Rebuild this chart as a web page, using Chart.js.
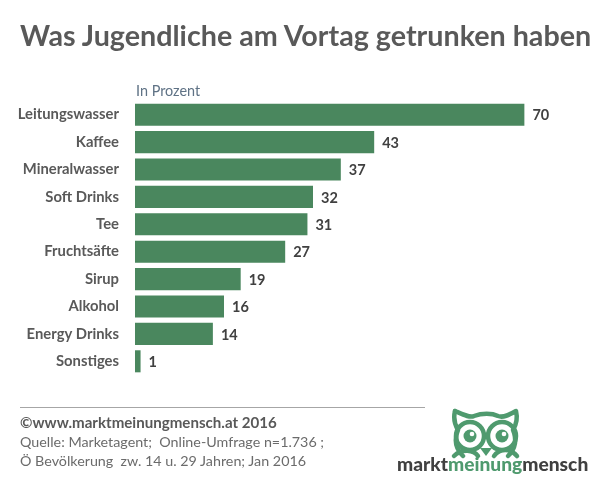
<!DOCTYPE html>
<html>
<head>
<meta charset="utf-8">
<script src="https://cdn.jsdelivr.net/npm/chart.js@4"></script>
<style>
  html, body { margin: 0; padding: 0; background: #fff; }
  body { width: 611px; height: 479px; position: relative; overflow: hidden; font-family: Lato, "Open Sans", sans-serif; }
  canvas { position: absolute; left: 0; top: 0; }
  .txt { position: absolute; white-space: pre; }
  #title { left: 20px; top: 18px; font-size: 28.7px; font-weight: 700; color: #595959; }
  #unit { left: 136px; top: 82px; font-size: 14.4px; color: #5f7285; }
  #rule { left: 20px; top: 407px; width: 405px; height: 1px; background: #a6a6a6; }
  #src1 { left: 20px; top: 413px; font-size: 15.1px; font-weight: 700; color: #595959; }
  #src2 { left: 20px; top: 433px; font-size: 14.3px; color: #6b6b6b; }
  #src3 { left: 20px; top: 452px; font-size: 14.3px; color: #6b6b6b; }
  #logoText { left: 397px; top: 452px; font-size: 19.2px; font-weight: 900; color: #404040; }
  #logoText span { color: #4f9a6e; }
  #owl { position: absolute; left: 450px; top: 406px; }
</style>
</head>
<body>
<canvas id="barChart" width="611" height="479"></canvas>
<div class="txt" id="title">Was Jugendliche am Vortag getrunken haben</div>
<div class="txt" id="unit">In Prozent</div>
<div class="txt" id="rule"></div>
<div class="txt" id="src1">©www.marktmeinungmensch.at 2016</div>
<div class="txt" id="src2">Quelle: Marketagent;  Online-Umfrage n=1.736 ;</div>
<div class="txt" id="src3">Ö Bevölkerung  zw. 14 u. 29 Jahren; Jan 2016</div>
<svg id="owl" width="72" height="54" viewBox="0 0 72 54">
  <g fill="none" stroke="#4f9a6e" stroke-width="4.5" stroke-linejoin="round" stroke-linecap="round">
    <path d="M5 5 C14 9 20 12 24 10 C32 7 42 7 48 10 C53 12 59 9 66 5 C68 13 66 19 63 24 C68 36 64 44 58 50"/>
    <path d="M5 5 C3 13 5 19 8 24 C3 36 7 44 13 50"/>
    <circle cx="20" cy="30" r="14"/>
    <circle cx="52" cy="30" r="14"/>
    <path d="M4 50 C12 42 24 44 28 50"/>
    <path d="M44 50 C50 42 60 42 67 50"/>
  </g>
  <circle cx="20" cy="30" r="6.5" fill="#4f9a6e"/>
  <circle cx="52" cy="30" r="6.5" fill="#4f9a6e"/>
  <circle cx="22" cy="28" r="2.3" fill="#fff"/>
  <circle cx="54" cy="28" r="2.3" fill="#fff"/>
  <path d="M30 42 L42 42 L36 50 Z" fill="#4f9a6e"/>
</svg>
<div class="txt" id="logoText">markt<span>meinung</span>mensch</div>

<script>
// Chart data
const categories = ["Leitungswasser", "Kaffee", "Mineralwasser", "Soft Drinks", "Tee", "Fruchtsäfte", "Sirup", "Alkohol", "Energy Drinks", "Sonstiges"];
const values = [70, 43, 37, 32, 31, 27, 19, 16, 14, 1];

// Draw the value next to each bar
const valueLabels = {
  id: "valueLabels",
  afterDatasetsDraw(chart) {
    const ctx = chart.ctx;
    ctx.save();
    ctx.font = "700 14.5px Lato, sans-serif";
    ctx.fillStyle = "#404040";
    ctx.textBaseline = "middle";
    chart.getDatasetMeta(0).data.forEach((bar, i) => {
      ctx.fillText(values[i], bar.x + 8, bar.y + 1);
    });
    ctx.restore();
  },
};

new Chart(document.getElementById("barChart"), {
  type: "bar",
  data: {
    labels: categories,
    datasets: [
      {
        data: values,
        backgroundColor: "#4a875e",
        barPercentage: 0.805,
        categoryPercentage: 1,
      },
    ],
  },
  options: {
    indexAxis: "y",
    responsive: false,
    animation: false,
    layout: { padding: { top: 101, bottom: 104, right: 31 } },
    plugins: { legend: { display: false }, tooltip: { enabled: false } },
    scales: {
      x: { display: false, min: 0, max: 80 },
      y: {
        afterFit(scale) { scale.width = 135; },
        grid: { display: false },
        border: { display: false },
        ticks: {
          color: "#595959",
          padding: 8,
          font: { family: "Lato, sans-serif", size: 14.8, weight: "700" },
          autoSkip: false,
        },
      },
    },
  },
  plugins: [valueLabels],
});
</script>
</body>
</html>
